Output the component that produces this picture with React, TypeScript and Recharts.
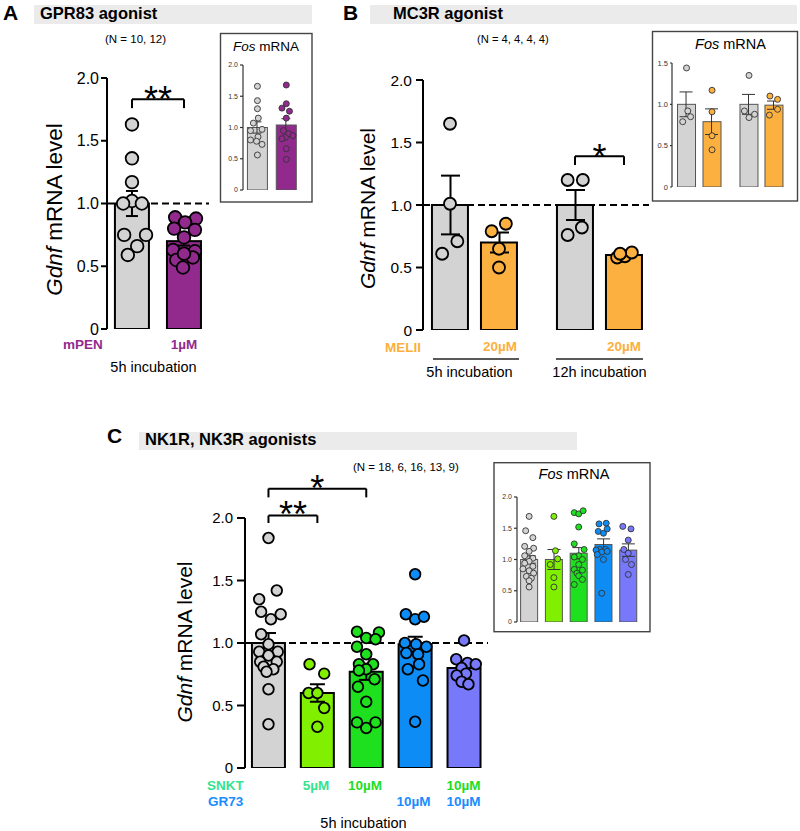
import { ComposedChart, Bar, Scatter, XAxis, YAxis, ErrorBar, ReferenceLine } from 'recharts'

const FONT = '"Liberation Sans", Arial, Helvetica, sans-serif'

const GREY = '#d3d3d3'
const PURPLE = '#922a8e'
const ORANGE = '#fbb040'
const LIME = '#80f000'
const GREEN = '#1ee01e'
const BLUE = '#0d8cf5'
const PERI = '#7878fa'
const MINT = '#33e38f'
const TXT_GREEN = '#22dd22'
const TXT_BLUE = '#1a8cff'

// ---- A: GPR83 agonist (vehicle vs mPEN 1µM), points are [value, jitter] ----
const gprPos = [0, 1]
const gprMean = [1.0, 0.7]
const gprSem = [0.1, 0.035]
const gprDots = [
  [[1.63, 0], [1.36, 0], [1.17, 0], [1.02, 0], [1.0, -0.17], [1.0, 0.19], [0.75, -0.15], [0.75, 0.27], [0.66, 0.1], [0.59, -0.08]],
  [[0.89, -0.17], [0.88, 0.23], [0.85, 0.02], [0.8, -0.19], [0.79, 0.21], [0.73, 0], [0.63, -0.21], [0.62, 0.21], [0.57, 0.17], [0.55, -0.15], [0.49, -0.02], [0.6, 0]],
]
const gprFosMean = [1.0, 1.04]
const gprFosSem = [0.09, 0.1]
const gprFosDots = [
  [[1.66, 0], [1.43, 0], [1.3, 0], [1.15, 0.03], [1.07, -0.14], [0.97, 0.16], [0.95, -0.24], [0.85, 0.02], [0.8, -0.24], [0.78, -0.03], [0.73, 0.16], [0.56, 0]],
  [[1.68, 0], [1.38, 0], [1.31, -0.15], [1.26, 0.11], [1.15, 0], [0.95, -0.1], [0.9, 0.08], [0.87, 0.23], [0.84, -0.03], [0.82, -0.15], [0.66, 0], [0.49, 0]],
]

// ---- B: MC3R agonist (5h / 12h, vehicle vs MELII 20µM) ----
const mcPos = [0, 1, 2.551, 3.551]
const mcMean = [1.0, 0.7, 1.0, 0.6]
const mcSem = [0.235, 0.08, 0.12, 0.012]
const mcDots = [
  [[1.65, 0], [1.01, 0], [0.71, 0.15], [0.61, -0.16]],
  [[0.79, -0.15], [0.85, 0.14], [0.65, 0], [0.5, 0]],
  [[1.2, -0.15], [1.2, 0.16], [0.76, -0.15], [0.82, 0.14]],
  [[0.58, -0.14], [0.59, 0.02], [0.62, 0.16], [0.61, -0.08]],
]
const mcFosPos = [0, 1, 2.45, 3.43]
const mcFosMean = [1.0, 0.79, 1.0, 0.99]
const mcFosSem = [0.15, 0.155, 0.12, 0.05]
const mcFosDots = [
  [[1.44, 0], [0.92, 0.05], [0.85, 0.16], [0.79, -0.15]],
  [[1.17, 0], [0.91, 0], [0.62, 0], [0.45, 0]],
  [[1.35, 0], [0.92, -0.18], [0.88, 0.22], [0.84, 0]],
  [[1.1, -0.16], [1.06, 0.14], [0.87, -0.18], [0.94, 0.14]],
]

// ---- C: NK1R, NK3R agonists ----
const nkPos = [0, 1, 2, 3, 4]
const nkMean = [1.0, 0.6, 0.77, 0.99, 0.8]
const nkSem = [0.08, 0.07, 0.065, 0.06, 0.035]
const nkDots = [
  [[1.84, 0], [1.42, 0.17], [1.35, -0.19], [1.25, -0.15], [1.23, 0.25], [1.19, 0.05], [1.07, -0.15], [0.99, 0], [0.93, -0.19], [0.93, 0.19], [0.9, 0], [0.85, -0.17], [0.85, 0.17], [0.81, -0.1], [0.79, 0.1], [0.77, -0.04], [0.63, 0], [0.35, 0]],
  [[0.83, -0.16], [0.755, 0.14], [0.6, -0.18], [0.6, 0], [0.48, 0.14], [0.33, 0]],
  [[1.09, -0.19], [1.085, 0.26], [1.04, 0], [1.03, 0.19], [0.97, -0.19], [0.91, 0], [0.83, -0.15], [0.83, 0.14], [0.79, 0], [0.78, -0.15], [0.71, 0.17], [0.65, -0.17], [0.53, 0], [0.365, -0.19], [0.365, 0.19], [0.32, 0]],
  [[1.55, 0], [1.23, -0.19], [1.19, 0], [1.21, 0.18], [1.0, -0.21], [0.99, 0.02], [0.97, 0.23], [0.92, -0.18], [0.91, 0.06], [0.79, -0.15], [0.83, 0.08], [0.7, 0.16], [0.37, 0]],
  [[1.02, 0], [0.87, -0.16], [0.84, 0.07], [0.83, 0.24], [0.8, -0.05], [0.755, 0.04], [0.74, -0.15], [0.69, -0.05], [0.67, 0.09]],
]
const nkFosMean = [1.0, 1.0, 1.1, 1.24, 1.15]
const nkFosSem = [0.06, 0.16, 0.09, 0.09, 0.1]
const nkFosDots = [
  [[1.69, 0], [1.46, -0.14], [1.35, 0.15], [1.21, -0.18], [1.18, 0.18], [1.13, 0], [1.06, -0.18], [1.02, 0.15], [0.97, 0], [0.94, -0.18], [0.89, 0.15], [0.85, -0.25], [0.82, 0], [0.78, 0.18], [0.73, -0.11], [0.7, 0.09], [0.66, 0], [0.56, 0]],
  [[1.69, 0], [1.14, 0.06], [1.01, 0.15], [0.92, -0.15], [0.71, 0], [0.56, 0]],
  [[1.75, -0.18], [1.73, 0], [1.78, 0.18], [1.52, 0], [1.25, -0.18], [1.16, 0.22], [1.06, 0], [1.04, -0.18], [1.0, 0.15], [0.92, 0], [0.84, -0.18], [0.83, 0.15], [0.78, -0.07], [0.74, 0], [0.68, 0.15], [0.6, -0.18]],
  [[1.57, -0.18], [1.58, 0.11], [1.45, -0.21], [1.42, 0], [1.49, 0.15], [1.16, -0.15], [1.16, 0.09], [1.15, -0.3], [1.12, -0.07], [1.08, -0.25], [1.0, 0], [1.13, 0.15], [0.46, -0.07]],
  [[1.53, -0.22], [1.49, 0.11], [1.31, 0], [1.16, -0.18], [1.1, 0], [1.0, -0.11], [0.92, 0.13], [0.76, 0]],
]

const ticks2 = [0, 0.5, 1, 1.5, 2]
const ticks15 = [0, 0.5, 1, 1.5]

function groupsOf(pos: number[], mean: number[], sem: number[], colors: string[], dots: number[][][]) {
  return pos.map((x, i) => ({ x, mean: mean[i], sem: sem[i], fill: colors[i], pts: dots[i] }))
}

const fmt = (v: number) => (v === 0 ? '0' : v.toFixed(1))

function starLabel(txt: string, lift: number) {
  return (props: any) => {
    const vb = props.viewBox
    return (
      <text x={vb.x + vb.width / 2} y={vb.y - lift + 0.58 * 36} textAnchor="middle" fontSize={36} fontFamily={FONT} fill="#000">
        {txt}
      </text>
    )
  }
}

function DotBarChart(p: any) {
  const inset = !!p.inset
  const yAxisW = inset ? 30 : 60
  const mt = 50
  const mb = 14
  const mr = 8
  const plotW = p.xRight - p.axisX
  const plotH = p.yBottom - p.yTop
  const data = p.groups.map((g: any) => ({ x: g.x, mean: g.mean, sem: g.sem }))
  const axisStroke = inset ? '#333' : '#000'
  const axisW = inset ? 1.2 : 2
  const outline = inset ? '#555' : '#000'
  const r = inset ? 3 : p.r
  const dotStroke = inset ? '#333' : '#000'
  const dotW = inset ? 0.9 : 1.8
  const bw = p.barSize

  const barShape = (s: any) => {
    const cx = s.x + s.width / 2
    return (
      <rect
        x={cx - bw / 2}
        y={s.y}
        width={bw}
        height={s.height}
        fill={p.groups[s.index].fill}
        stroke={outline}
        strokeWidth={inset ? 1 : 2}
      />
    )
  }

  return (
    <div style={{ position: 'absolute', left: p.axisX - yAxisW, top: p.yTop - mt }}>
      <ComposedChart width={yAxisW + plotW + mr} height={mt + plotH + mb} data={data} margin={{ top: mt, right: mr, bottom: mb, left: 0 }}>
        <XAxis
          type="number"
          dataKey="x"
          domain={p.xDomain}
          allowDataOverflow
          tickCount={p.tickCount}
          tick={false}
          tickLine={false}
          height={0}
          axisLine={{ stroke: axisStroke, strokeWidth: axisW }}
        />
        <XAxis xAxisId="err" type="number" dataKey="x" domain={p.xDomain} allowDataOverflow tickCount={p.tickCount} hide />
        <YAxis
          type="number"
          domain={[0, p.yMax]}
          allowDataOverflow
          ticks={p.yTicks}
          interval={0}
          width={yAxisW}
          tickSize={p.tickSize}
          tickMargin={p.tickMargin}
          tickFormatter={fmt}
          tick={{ fontSize: p.tickFont, fill: inset ? '#333' : '#000', fontFamily: FONT }}
          tickLine={{ stroke: axisStroke, strokeWidth: axisW }}
          axisLine={{ stroke: axisStroke, strokeWidth: axisW }}
        />
        <Bar dataKey="mean" barSize={bw} shape={barShape} isAnimationActive={false} />
        {!inset && <ReferenceLine y={1} stroke="#000" strokeWidth={2} strokeDasharray="7 4" />}
        {p.groups.map((g: any, i: number) => (
          <Scatter
            key={i}
            data={g.pts.map((d: number[]) => ({ x: g.x + d[1], y: d[0] }))}
            dataKey="y"
            isAnimationActive={false}
            shape={(s: any) => <circle cx={s.cx} cy={s.cy} r={r} fill={g.fill} stroke={dotStroke} strokeWidth={dotW} />}
          />
        ))}
        <Bar xAxisId="err" dataKey="mean" barSize={bw} fill="none" isAnimationActive={false}>
          <ErrorBar dataKey="sem" width={p.cap} stroke={inset ? '#333' : '#000'} strokeWidth={inset ? 1 : 2} direction="y" />
        </Bar>
        {(p.brackets || []).flatMap((b: any, i: number) => [
          <ReferenceLine
            key={`h${i}`}
            ifOverflow="visible"
            segment={[{ x: b.from, y: b.y }, { x: b.to, y: b.y }]}
            stroke="#000"
            strokeWidth={2}
            label={starLabel(b.text, b.lift)}
          />,
          <ReferenceLine key={`l${i}`} ifOverflow="visible" segment={[{ x: b.from, y: b.y }, { x: b.from, y: b.y - b.drop }]} stroke="#000" strokeWidth={2} />,
          <ReferenceLine key={`r${i}`} ifOverflow="visible" segment={[{ x: b.to, y: b.y }, { x: b.to, y: b.y - b.drop }]} stroke="#000" strokeWidth={2} />,
        ])}
      </ComposedChart>
    </div>
  )
}

function YTitle({ x, y, size }: { x: number; y: number; size: number }) {
  return (
    <text transform={`translate(${x},${y}) rotate(-90)`} textAnchor="middle" fontSize={size} fill="#000">
      <tspan fontStyle="italic">Gdnf</tspan> mRNA level
    </text>
  )
}

export default function App() {
  const gpr = groupsOf(gprPos, gprMean, gprSem, [GREY, PURPLE], gprDots)
  const gprFos = groupsOf(gprPos, gprFosMean, gprFosSem, [GREY, PURPLE], gprFosDots)
  const mc = groupsOf(mcPos, mcMean, mcSem, [GREY, ORANGE, GREY, ORANGE], mcDots)
  const mcFos = groupsOf(mcFosPos, mcFosMean, mcFosSem, [GREY, ORANGE, GREY, ORANGE], mcFosDots)
  const nkColors = [GREY, LIME, GREEN, BLUE, PERI]
  const nk = groupsOf(nkPos, nkMean, nkSem, nkColors, nkDots)
  const nkFos = groupsOf(nkPos, nkFosMean, nkFosSem, nkColors, nkFosDots)

  return (
    <div style={{ position: 'absolute', left: 0, top: 0, width: 800, height: 831, background: '#fff', fontFamily: FONT }}>
      <svg width={800} height={831} style={{ position: 'absolute', left: 0, top: 0 }} fontFamily={FONT}>
        {/* panel letters and headers */}
        <text x={3} y={20} fontSize={21} fontWeight="bold">A</text>
        <rect x={34} y={5} width={278} height={19} fill="#ebebeb" />
        <text x={40} y={19} fontSize={16.5} fontWeight="bold">GPR83 agonist</text>
        <text x={343} y={20} fontSize={21} fontWeight="bold">B</text>
        <rect x={370} y={5} width={427} height={19} fill="#ebebeb" />
        <text x={393} y={18.5} fontSize={16.5} fontWeight="bold">MC3R agonist</text>
        <text x={107} y={443} fontSize={21} fontWeight="bold">C</text>
        <rect x={139} y={432} width={438} height={18} fill="#ebebeb" />
        <text x={145} y={445} fontSize={16.5} fontWeight="bold">NK1R, NK3R agonists</text>

        <text x={105} y={43} fontSize={11.5}>(N = 10, 12)</text>
        <text x={477} y={43} fontSize={11.2}>(N = 4, 4, 4, 4)</text>
        <text x={353} y={470.5} fontSize={11.5}>(N = 18, 6, 16, 13, 9)</text>

        <YTitle x={62} y={209.5} size={22.5} />
        <YTitle x={375} y={208.5} size={21} />
        <YTitle x={191.7} y={642} size={21} />

        {/* inset frames */}
        <rect x={220.5} y={33.5} width={91.5} height={168.5} fill="none" stroke="#444" strokeWidth={1.4} />
        <text x={233} y={50.5} fontSize={13.5}><tspan fontStyle="italic">Fos</tspan> mRNA</text>
        <rect x={652.5} y={31.5} width={145} height={169.5} fill="none" stroke="#444" strokeWidth={1.4} />
        <text x={730.5} y={49} fontSize={14.5} textAnchor="middle"><tspan fontStyle="italic">Fos</tspan> mRNA</text>
        <rect x={494} y={462.7} width={156} height={169} fill="none" stroke="#444" strokeWidth={1.4} />
        <text x={574} y={479.3} fontSize={14.5} textAnchor="middle"><tspan fontStyle="italic">Fos</tspan> mRNA</text>

        {/* treatment labels */}
        <g fontSize={13.5} fontWeight="bold">
          <text x={63} y={349} fill={PURPLE}>mPEN</text>
          <text x={184} y={349} fill={PURPLE} textAnchor="middle">1µM</text>
          <text x={385} y={352} fill={ORANGE}>MELII</text>
          <text x={500} y={350.7} fill={ORANGE} textAnchor="middle">20µM</text>
          <text x={624} y={350.7} fill={ORANGE} textAnchor="middle">20µM</text>
          <text x={207} y={790} fill={MINT}>SNKT</text>
          <text x={208} y={806} fill={TXT_BLUE}>GR73</text>
          <text x={316} y={790} fill={MINT} textAnchor="middle">5µM</text>
          <text x={365} y={790} fill={TXT_GREEN} textAnchor="middle">10µM</text>
          <text x={463.5} y={790} fill={TXT_GREEN} textAnchor="middle">10µM</text>
          <text x={413.5} y={806} fill={TXT_BLUE} textAnchor="middle">10µM</text>
          <text x={463.5} y={806} fill={TXT_BLUE} textAnchor="middle">10µM</text>
        </g>
        <line x1={433} y1={359} x2={519} y2={359} stroke="#222" strokeWidth={1.5} />
        <line x1={556} y1={359} x2={643} y2={359} stroke="#222" strokeWidth={1.5} />
        <g fontSize={14.5}>
          <text x={153.5} y={372} textAnchor="middle">5h incubation</text>
          <text x={469.5} y={377} textAnchor="middle">5h incubation</text>
          <text x={599.5} y={377} textAnchor="middle">12h incubation</text>
          <text x={363.5} y={828} textAnchor="middle">5h incubation</text>
        </g>
      </svg>

      <DotBarChart
        groups={gpr}
        axisX={107} yTop={78} yBottom={329} xRight={209}
        xDomain={[-0.48, 1.48]} tickCount={2}
        yMax={2} yTicks={ticks2}
        barSize={34} cap={6} r={6.3}
        tickFont={16} tickSize={6} tickMargin={2}
        brackets={[{ from: 0, to: 1, y: 1.83, drop: 0.07, text: '**', lift: 8 }]}
      />
      <DotBarChart
        inset groups={gprFos}
        axisX={242.7} yTop={65} yBottom={190} xRight={301}
        xDomain={[-0.5, 1.52]} tickCount={2}
        yMax={2} yTicks={ticks2}
        barSize={20} cap={4.5}
        tickFont={7} tickSize={3} tickMargin={2}
      />
      <DotBarChart
        groups={mc}
        axisX={423} yTop={80} yBottom={330} xRight={649}
        xDomain={[-0.551, 4.061]} tickCount={3}
        yMax={2} yTicks={ticks2}
        barSize={36} cap={9.5} r={6}
        tickFont={15.5} tickSize={7} tickMargin={4}
        brackets={[{ from: 2.551, to: 3.551, y: 1.39, drop: 0.07, text: '*', lift: 7.5 }]}
      />
      <DotBarChart
        inset groups={mcFos}
        axisX={672} yTop={63.3} yBottom={187.3} xRight={787}
        xDomain={[-0.57, 3.94]} tickCount={3}
        yMax={1.5} yTicks={ticks15}
        barSize={18} cap={6.5}
        tickFont={7.5} tickSize={2} tickMargin={2}
      />
      <DotBarChart
        groups={nk}
        axisX={245} yTop={518.3} yBottom={768.3} xRight={488}
        xDomain={[-0.48, 4.49]} tickCount={3}
        yMax={2} yTicks={ticks2}
        barSize={33} cap={7.5} r={5.3}
        tickFont={15} tickSize={8} tickMargin={4}
        brackets={[
          { from: 0, to: 1, y: 2.02, drop: 0.06, text: '**', lift: 9.5 },
          { from: 0, to: 2, y: 2.235, drop: 0.07, text: '*', lift: 9 },
        ]}
      />
      <DotBarChart
        inset groups={nkFos}
        axisX={517.3} yTop={497.3} yBottom={622.3} xRight={641.7}
        xDomain={[-0.49, 4.53]} tickCount={3}
        yMax={2} yTicks={ticks2}
        barSize={17} cap={6.5}
        tickFont={7} tickSize={3} tickMargin={2}
      />
    </div>
  )
}
